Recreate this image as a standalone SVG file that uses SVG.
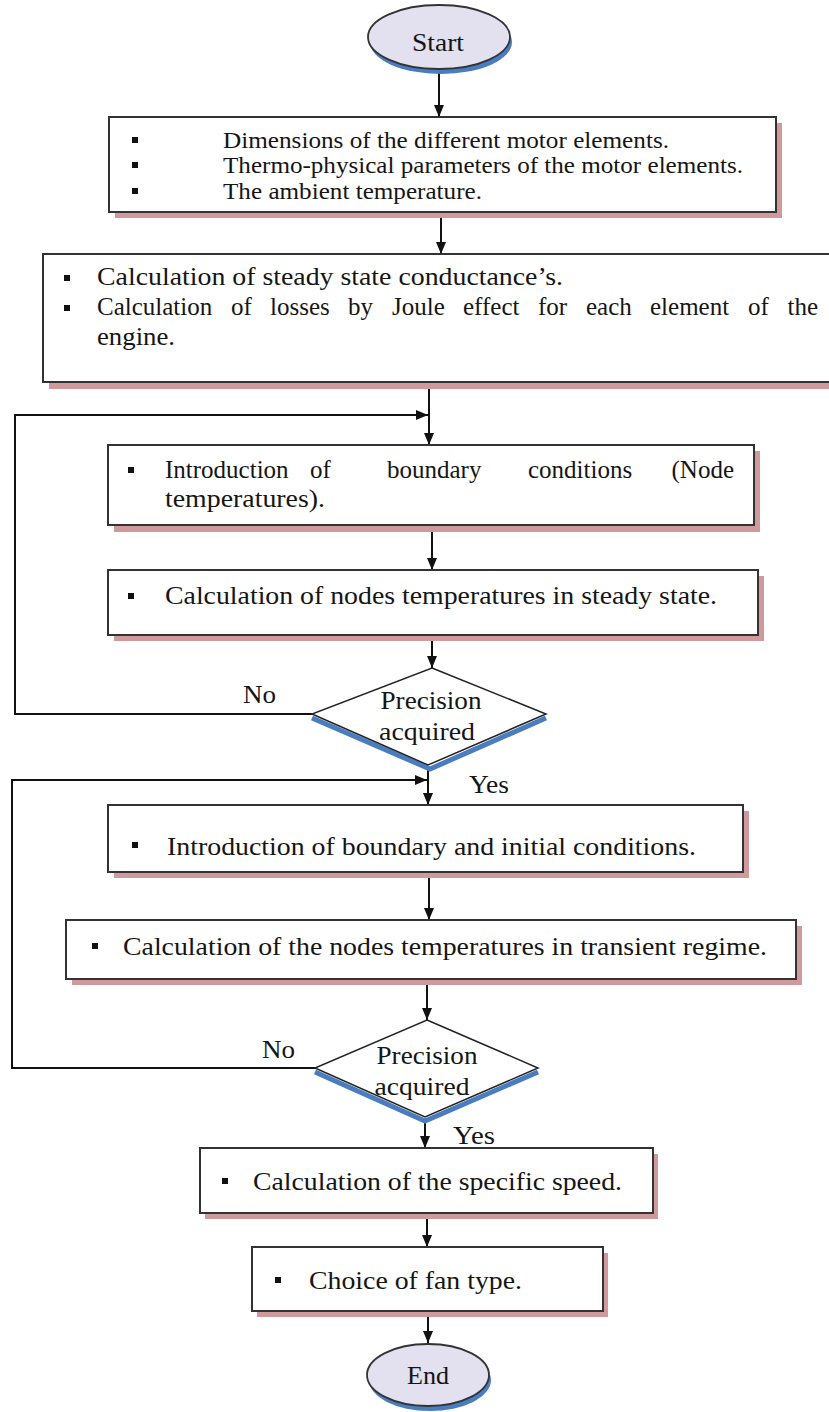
<svg xmlns="http://www.w3.org/2000/svg" width="829" height="1412" viewBox="0 0 829 1412">
<defs>
<marker id="arr" viewBox="0 0 12 10" refX="12" refY="5" markerWidth="12" markerHeight="11" markerUnits="userSpaceOnUse" orient="auto">
<path d="M0,0 L12,5 L0,10 z" fill="#111"/>
</marker>
</defs>
<style>
text{font-family:"Liberation Serif","Times New Roman",serif;fill:#151515;font-size:25px}
.t1{font-size:23px}
.d{font-size:25px}
.box{fill:#fff;stroke:#333;stroke-width:2}
.shadow{fill:#d09a9c}
.oval{fill:#e3e0f0;stroke:#333;stroke-width:1.8}
.oshadow{fill:#4a7cc0}
.dia{fill:#fff;stroke:#222;stroke-width:1.5}
.dshadow{fill:none;stroke:#4a7cc0;stroke-width:5;stroke-linejoin:miter}
.bul{fill:#111}
.con{fill:none;stroke:#111;stroke-width:2}
.mid{text-anchor:middle}
.end{text-anchor:end}
</style>
<rect width="829" height="1412" fill="#fff"/>

<g id="connectors">
<line class="con" x1="439" y1="73" x2="439" y2="117" marker-end="url(#arr)"/>
<line class="con" x1="441" y1="212" x2="441" y2="254" marker-end="url(#arr)"/>
<line class="con" x1="429" y1="389" x2="429" y2="445" marker-end="url(#arr)"/>
<path class="con" d="M312,714 H15 V415 H428" marker-end="url(#arr)"/>
<line class="con" x1="432" y1="531" x2="432" y2="570" marker-end="url(#arr)"/>
<line class="con" x1="432" y1="641" x2="432" y2="668" marker-end="url(#arr)"/>
<line class="con" x1="428" y1="768" x2="428" y2="805" marker-end="url(#arr)"/>
<path class="con" d="M315,1068 H12 V780 H427" marker-end="url(#arr)"/>
<line class="con" x1="429" y1="878" x2="429" y2="920" marker-end="url(#arr)"/>
<line class="con" x1="427" y1="984" x2="427" y2="1020" marker-end="url(#arr)"/>
<line class="con" x1="425" y1="1120" x2="425" y2="1148" marker-end="url(#arr)"/>
<line class="con" x1="427" y1="1219" x2="427" y2="1247" marker-end="url(#arr)"/>
<line class="con" x1="428" y1="1317" x2="428" y2="1343" marker-end="url(#arr)"/>
<text x="243" y="703" textLength="33" lengthAdjust="spacingAndGlyphs">No</text>
<text x="469" y="793" textLength="40" lengthAdjust="spacingAndGlyphs">Yes</text>
<text x="262" y="1058" textLength="33" lengthAdjust="spacingAndGlyphs">No</text>
<text x="453" y="1144" textLength="42" lengthAdjust="spacingAndGlyphs">Yes</text>
</g>

<g id="start">
<ellipse class="oshadow" cx="441" cy="42" rx="71" ry="32"/>
<ellipse class="oval" cx="439" cy="37" rx="71" ry="32"/>
<text x="438" y="51" class="mid" textLength="52" lengthAdjust="spacingAndGlyphs">Start</text>
</g>

<g id="box1">
<rect class="shadow" x="115" y="123" width="667" height="95"/>
<rect class="box" x="109" y="117" width="667" height="95"/>
<rect class="bul" x="132" y="137" width="6" height="6"/>
<rect class="bul" x="132" y="162" width="6" height="6"/>
<rect class="bul" x="132" y="188" width="6" height="6"/>
<text class="t1" x="223" y="148" textLength="446" lengthAdjust="spacingAndGlyphs">Dimensions of the different motor elements.</text>
<text class="t1" x="223" y="173" textLength="520" lengthAdjust="spacingAndGlyphs">Thermo-physical parameters of the motor elements.</text>
<text class="t1" x="223" y="199" textLength="259" lengthAdjust="spacingAndGlyphs">The ambient temperature.</text>
</g>

<g id="box2">
<rect class="shadow" x="49" y="260" width="790" height="129"/>
<rect class="box" x="43" y="254" width="800" height="128"/>
<rect class="bul" x="64" y="275" width="6" height="6"/>
<rect class="bul" x="64" y="305" width="6" height="6"/>
<text x="97" y="285" textLength="466" lengthAdjust="spacingAndGlyphs">Calculation of steady state conductance’s.</text>
<text y="315"><tspan x="97">Calculation</tspan><tspan x="231">of</tspan><tspan x="270">losses</tspan><tspan x="348">by</tspan><tspan x="392">Joule</tspan><tspan x="463">effect</tspan><tspan x="538">for</tspan><tspan x="586">each</tspan><tspan x="650">element</tspan><tspan x="748">of</tspan></text>
<text class="end" x="818" y="315">the</text>
<text x="97" y="345" textLength="78" lengthAdjust="spacingAndGlyphs">engine.</text>
</g>

<g id="box3">
<rect class="shadow" x="114" y="451" width="646" height="81"/>
<rect class="box" x="108" y="445" width="646" height="80"/>
<rect class="bul" x="128" y="467" width="6" height="6"/>
<text y="478"><tspan x="165">Introduction</tspan><tspan x="310">of</tspan><tspan x="387">boundary</tspan><tspan x="528">conditions</tspan></text>
<text class="end" x="734" y="478">(Node</text>
<text x="165" y="507" textLength="160" lengthAdjust="spacingAndGlyphs">temperatures).</text>
</g>

<g id="box4">
<rect class="shadow" x="114" y="576" width="650" height="65"/>
<rect class="box" x="108" y="570" width="650" height="65"/>
<rect class="bul" x="128" y="593" width="6" height="6"/>
<text x="165" y="604" textLength="552" lengthAdjust="spacingAndGlyphs">Calculation of nodes temperatures in steady state.</text>
</g>

<g id="decision1">
<polyline class="dshadow" points="312,718 430,769 546,718"/>
<polygon class="dia" points="432,668 546,714 428,765 312,714"/>
<text class="d mid" x="431" y="709" textLength="101" lengthAdjust="spacingAndGlyphs">Precision</text>
<text class="d mid" x="427" y="740" textLength="96" lengthAdjust="spacingAndGlyphs">acquired</text>
</g>

<g id="box5">
<rect class="shadow" x="114" y="811" width="635" height="67"/>
<rect class="box" x="108" y="805" width="635" height="67"/>
<rect class="bul" x="132" y="842" width="6" height="6"/>
<text x="167" y="855" textLength="529" lengthAdjust="spacingAndGlyphs">Introduction of boundary and initial conditions.</text>
</g>

<g id="box6">
<rect class="shadow" x="72" y="926" width="730" height="59"/>
<rect class="box" x="66" y="920" width="730" height="59"/>
<rect class="bul" x="92" y="943" width="6" height="6"/>
<text x="123" y="955" textLength="644" lengthAdjust="spacingAndGlyphs">Calculation of the nodes temperatures in transient regime.</text>
</g>

<g id="decision2">
<polyline class="dshadow" points="315,1072 425,1121 538,1072"/>
<polygon class="dia" points="427,1020 538,1068 425,1117 315,1068"/>
<text class="d mid" x="427" y="1064" textLength="101" lengthAdjust="spacingAndGlyphs">Precision</text>
<text class="d mid" x="422" y="1095" textLength="95" lengthAdjust="spacingAndGlyphs">acquired</text>
</g>

<g id="box7">
<rect class="shadow" x="205" y="1154" width="453" height="65"/>
<rect class="box" x="200" y="1148" width="453" height="65"/>
<rect class="bul" x="222" y="1178" width="6" height="6"/>
<text x="253" y="1190" textLength="369" lengthAdjust="spacingAndGlyphs">Calculation of the specific speed.</text>
</g>

<g id="box8">
<rect class="shadow" x="257" y="1253" width="351" height="64"/>
<rect class="box" x="252" y="1247" width="351" height="64"/>
<rect class="bul" x="275" y="1277" width="6" height="6"/>
<text x="309" y="1289" textLength="213" lengthAdjust="spacingAndGlyphs">Choice of fan type.</text>
</g>

<g id="end">
<ellipse class="oshadow" cx="430" cy="1380" rx="61" ry="31"/>
<ellipse class="oval" cx="428" cy="1375" rx="61" ry="31"/>
<text x="428" y="1384" class="mid" textLength="42" lengthAdjust="spacingAndGlyphs">End</text>
</g>
</svg>
